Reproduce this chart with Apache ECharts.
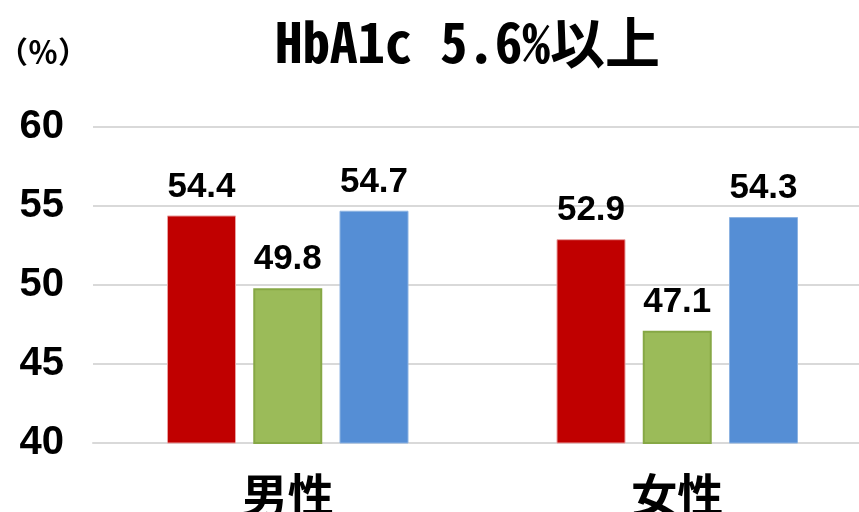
<!DOCTYPE html>
<html>
<head>
<meta charset="utf-8">
<script src="https://cdn.jsdelivr.net/npm/echarts@6/dist/echarts.min.js"></script>
<style>
  html, body { margin: 0; padding: 0; background: #fff; overflow: hidden; }
  #chart { width: 859px; height: 512px; }
</style>
</head>
<body>
<div id="chart"></div>
<script>
// HbA1c 5.6% or above, by sex (three groups per sex)
const categories = ['男性', '女性']
const seriesNames = ['系列1', '系列2', '系列3']
const redValues = [54.4, 52.9]
const greenValues = [49.8, 47.1]
const blueValues = [54.7, 54.3]
const yTicks = { min: 40, max: 60, interval: 5 }

const CJK = '"Noto Sans Mono CJK JP", "Noto Sans CJK JP", sans-serif'
const CJK_PROP = '"Noto Sans CJK JP", sans-serif'
const NUM = '"Liberation Sans", Arial, sans-serif'

const chart = echarts.init(document.getElementById('chart'), null, { renderer: 'canvas' })

const label = {
  show: true, position: 'top', distance: 11,
  color: '#000', fontFamily: NUM, fontWeight: 'bold', fontSize: 35,
  formatter: (p) => p.value.toFixed(1),
}

const styles = [
  { color: '#C00000', borderColor: '#E8A0A0', borderWidth: 1 },
  { color: '#9BBB59', borderColor: '#86A845', borderWidth: 2 },
  { color: '#558ED5', borderColor: '#8DB3E2', borderWidth: 1 },
]
const values = [redValues, greenValues, blueValues]

chart.setOption({
  backgroundColor: '#fff',
  animation: false,
  title: [{
    text: 'HbA1c 5.6%以上',
    left: 270, top: 10,
    textStyle: { fontFamily: CJK, fontWeight: 'bold', fontSize: 55, color: '#000' },
  }, {
    text: '（％）',
    left: -7, top: 32,
    textStyle: { fontFamily: CJK_PROP, fontWeight: 'bold', fontSize: 30, color: '#000' },
  }],
  grid: { left: 93, right: -13, top: 127, bottom: 69, containLabel: false, outerBoundsMode: 'none' },
  xAxis: {
    type: 'category', data: categories,
    axisTick: { show: false },
    axisLine: { lineStyle: { color: '#D9D9D9', width: 2 } },
    axisLabel: { color: '#000', fontFamily: CJK, fontWeight: 'bold', fontSize: 46, margin: 29 },
  },
  yAxis: {
    type: 'value', min: yTicks.min, max: yTicks.max, interval: yTicks.interval,
    axisLine: { show: false },
    axisTick: { show: false },
    axisLabel: { color: '#000', fontFamily: NUM, fontWeight: 'bold', fontSize: 40, margin: 29 },
    splitLine: { lineStyle: { color: '#D9D9D9', width: 2 } },
  },
  series: values.map((data, i) => ({
    name: seriesNames[i], type: 'bar', data,
    barWidth: 69, barGap: '25%',
    itemStyle: styles[i],
    label,
  })),
})
</script>
</body>
</html>
